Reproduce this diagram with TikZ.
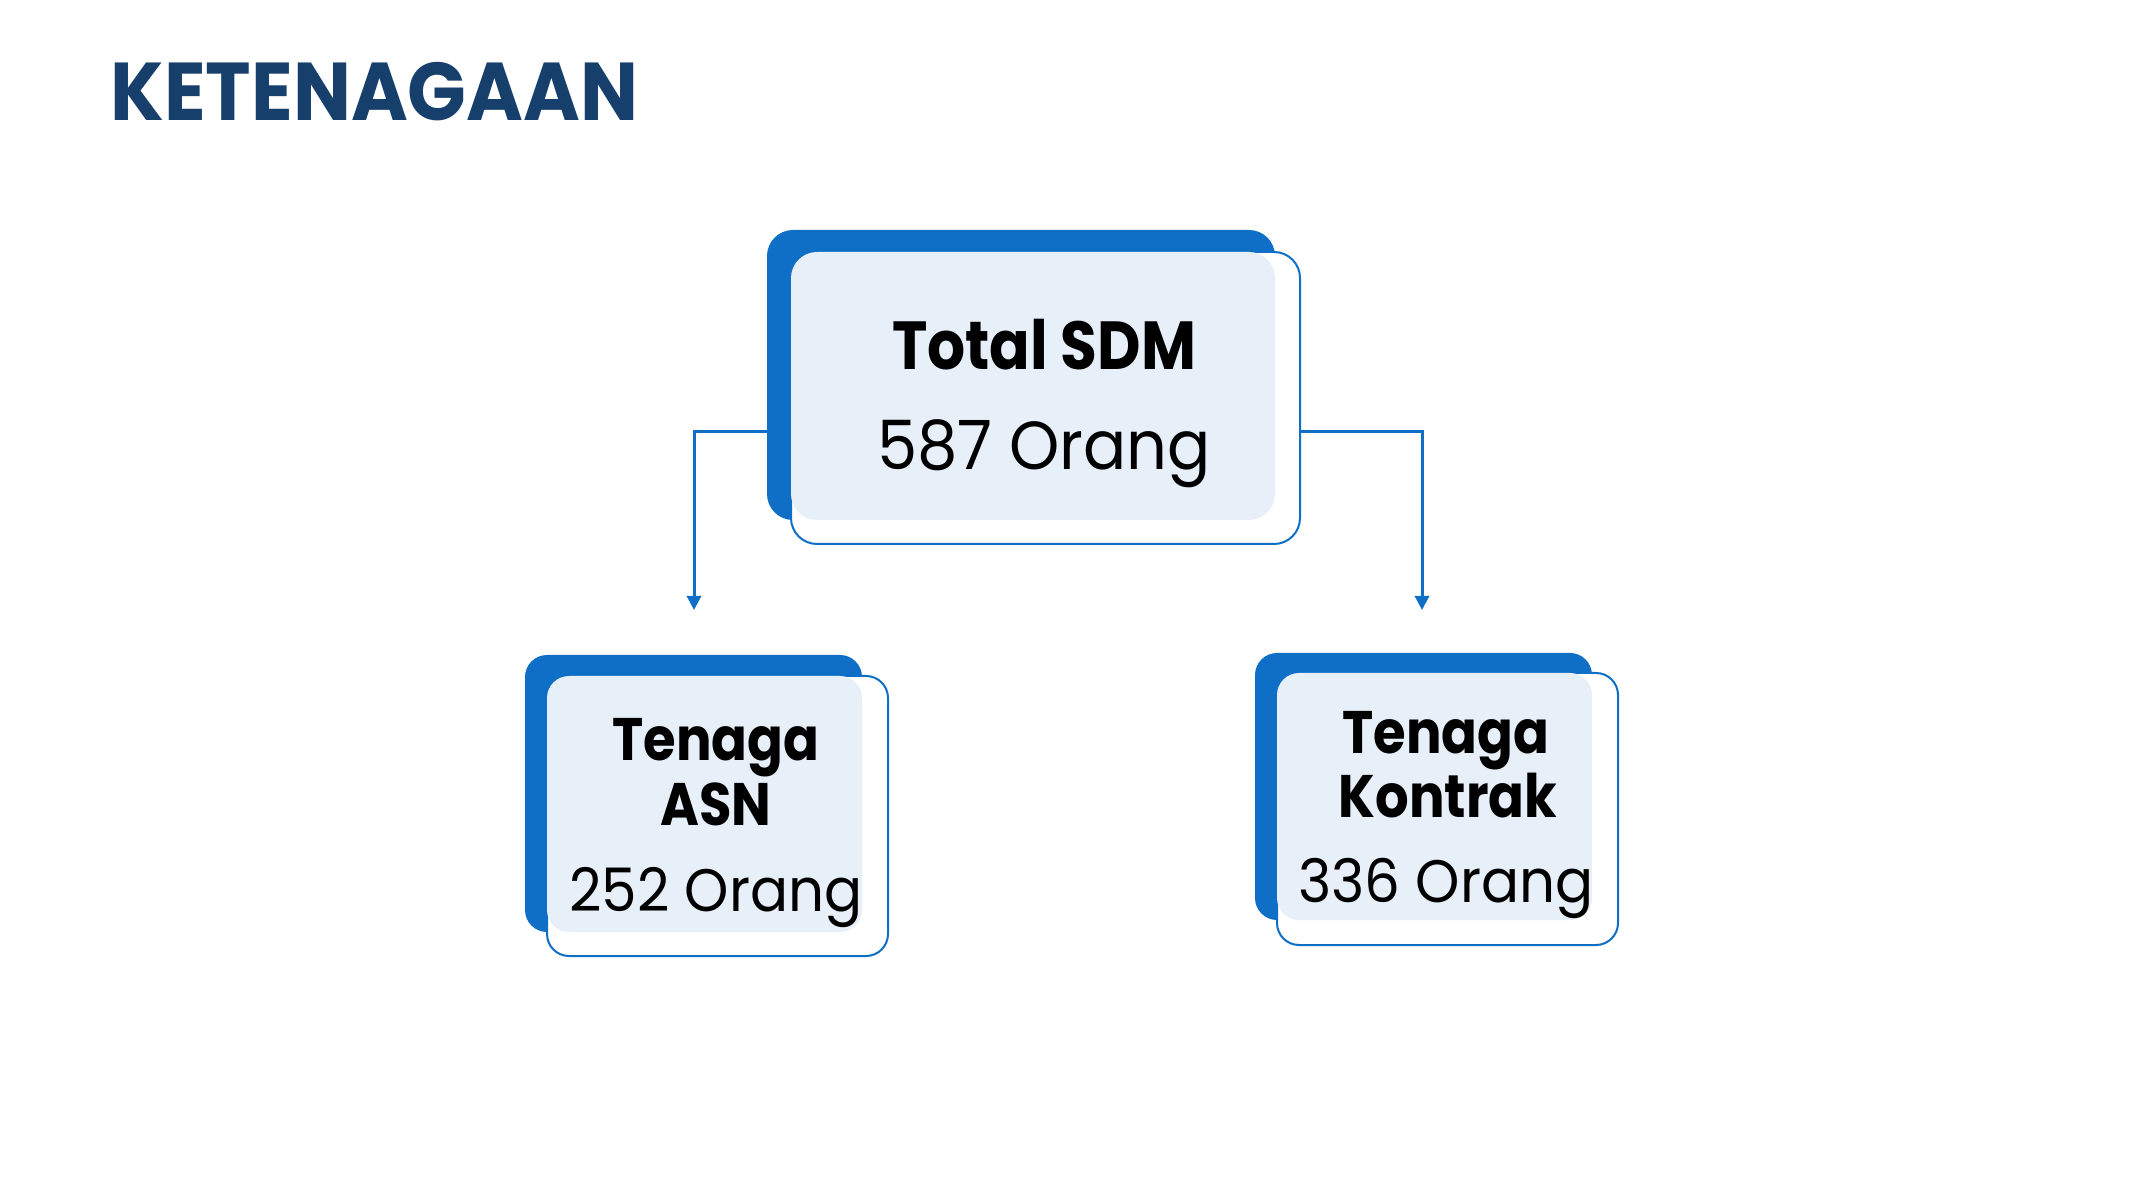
\documentclass[tikz,border=0pt]{standalone}
\usepackage{fontspec}
\usetikzlibrary{arrows.meta}
\newfontfamily\titlefont[FakeStretch=0.94]{Poppins}
\newfontfamily\regfont[FakeStretch=0.94]{Poppins}
\newfontfamily\boldfont[FakeStretch=0.88]{Poppins}
\definecolor{boxblue}{HTML}{0F6FC6}
\definecolor{lightfill}{HTML}{E7EFF9}
\definecolor{navy}{HTML}{173F6C}
\begin{document}
\begin{tikzpicture}[x=0.5pt,y=-0.5pt,
  darkbox/.style={fill=boxblue,draw=none,inner sep=0pt,outer sep=0pt,anchor=north west},
  outbox/.style={fill=white,draw=boxblue,line width=1pt,inner sep=0pt,outer sep=0pt,anchor=north west},
  lightbox/.style={fill=lightfill,draw=none,inner sep=0pt,outer sep=0pt,anchor=north west},
  conn/.style={draw=boxblue,line width=1.5pt,-{Triangle[width=7pt,length=7pt]}},
  bigbold/.style={font=\boldfont\fontsize{34}{40}\selectfont\bfseries,anchor=base,inner sep=0pt},
  bigreg/.style={font=\regfont\fontsize{34}{40}\selectfont,anchor=base,inner sep=0pt},
  smallbold/.style={font=\boldfont\fontsize{30}{36}\selectfont\bfseries,anchor=base,inner sep=0pt},
  smallreg/.style={font=\regfont\fontsize{30}{36}\selectfont,anchor=base,inner sep=0pt}]
\useasboundingbox[fill=white] (0,0) rectangle (2130,1186);
% title
\node[font=\titlefont\fontsize{41}{48}\selectfont\bfseries,text=navy,anchor=base west,inner sep=0pt] (title) at (110,121) {KETENAGAAN};
% top box
\node[darkbox,rounded corners=13pt,minimum width=254pt,minimum height=145pt] (topdark) at (767,230) {};
\node[outbox,rounded corners=13pt,minimum width=254.5pt,minimum height=146pt] (topout) at (791,252) {};
\node[lightbox,rounded corners=13pt,minimum width=242pt,minimum height=134pt] (topfill) at (791,252) {};
\node[bigbold] (toptitle) at (1044,370) {Total SDM};
\node[bigreg] (topval) at (1044,470) {587 Orang};
% left box
\node[darkbox,rounded corners=11pt,minimum width=168.5pt,minimum height=138.5pt] (asndark) at (525,655) {};
\node[outbox,rounded corners=11pt,minimum width=170.5pt,minimum height=140pt] (asnout) at (547,676) {};
\node[lightbox,rounded corners=11pt,minimum width=157.5pt,minimum height=128pt] (asnfill) at (547,676) {};
\node[smallbold] (asnt1) at (716,761) {Tenaga};
\node[smallbold] (asnt2) at (716,825) {ASN};
\node[smallreg] (asnval) at (716,911) {252 Orang};
% right box
\node[darkbox,rounded corners=11pt,minimum width=168.5pt,minimum height=133.5pt] (kondark) at (1255,653) {};
\node[outbox,rounded corners=11pt,minimum width=170.5pt,minimum height=136pt] (konout) at (1277,673) {};
\node[lightbox,rounded corners=11pt,minimum width=157.5pt,minimum height=123.5pt] (konfill) at (1277,673) {};
\node[smallbold] (kont1) at (1446,753) {Tenaga};
\node[smallbold] (kont2) at (1448,817) {Kontrak};
\node[smallreg] (konval) at (1446,902) {336 Orang};
% connectors
\coordinate (branchy) at (0,432);
\coordinate (asnarrow) at (694,610);
\coordinate (konarrow) at (1422,610);
\draw[conn] (topdark.west |- branchy) -| (asnarrow);
\draw[conn] (topout.east |- branchy) -| (konarrow);
\end{tikzpicture}
\end{document}
